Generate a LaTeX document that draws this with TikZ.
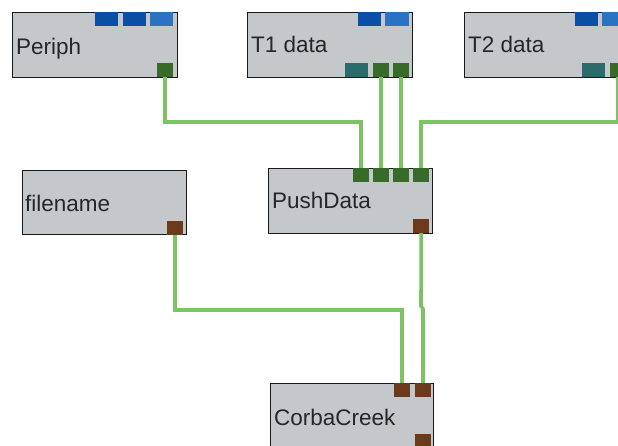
\documentclass[tikz,border=0pt]{standalone}
\usepackage{fontspec}
\setmainfont{Liberation Sans}
\definecolor{boxfill}{HTML}{C4C8CB}
\definecolor{wirecol}{HTML}{7CC462}
\definecolor{pdblue}{HTML}{0A4EA6}
\definecolor{plblue}{HTML}{2A73C3}
\definecolor{pgreen}{HTML}{386B2A}
\definecolor{pteal}{HTML}{2B6B6B}
\definecolor{pbrown}{HTML}{6B3A1A}
\tikzset{
  blk/.style={draw=black!90, line width=1.4pt, fill=boxfill, anchor=north west, inner sep=0pt},
  lbl/.style={anchor=base west, inner sep=0pt, font=\fontsize{22.5pt}{24pt}\selectfont, text=black!85},
  port/.style={anchor=north west, inner sep=0pt, minimum width=16pt, minimum height=13.5pt, draw=none},
  wire/.style={draw=wirecol, line width=3.6pt},
}
\begin{document}
\begin{tikzpicture}[x=1pt,y=-1pt]
\useasboundingbox (0,0) rectangle (618,446);
\clip (0,0) rectangle (618,446);
\fill[white] (0,0) rectangle (618,446);

% ---------- blocks ----------
\node[blk, minimum width=165pt, minimum height=65pt] (periph) at (12,12) {};
\node[blk, minimum width=165pt, minimum height=65pt] (tone) at (247,12) {};
\node[blk, minimum width=175pt, minimum height=65pt] (ttwo) at (464,12) {};
\node[blk, minimum width=164pt, minimum height=64pt] (filename) at (22,170) {};
\node[blk, minimum width=164pt, minimum height=65pt] (pushdata) at (268,168) {};
\node[blk, minimum width=163pt, minimum height=80pt] (corba) at (270,383) {};

% ---------- labels ----------
\node[lbl] (periphL) at (16,55) {Periph};
\node[lbl] (toneL) at (251,53) {T1 data};
\node[lbl] (ttwoL) at (468,53) {T2 data};
\node[lbl] (filenameL) at (25,212) {filename};
\node[lbl] (pushdataL) at (272,209) {PushData};
\node[lbl] (corbaL) at (274,425) {CorbaCreek};

% ---------- ports ----------
% Periph
\node[port, fill=pdblue, minimum width=23pt] (periphT1) at (95,12) {};
\node[port, fill=pdblue, minimum width=23pt] (periphT2) at (123,12) {};
\node[port, fill=plblue, minimum width=23pt] (periphT3) at (150,12) {};
\node[port, fill=pgreen] (periphO) at (157,63) {};
% T1 data
\node[port, fill=pdblue, minimum width=23pt] (toneT1) at (358,12) {};
\node[port, fill=plblue, minimum width=24pt] (toneT2) at (385,12) {};
\node[port, fill=pteal, minimum width=23pt] (toneO1) at (345,63) {};
\node[port, fill=pgreen] (toneO2) at (373,63) {};
\node[port, fill=pgreen] (toneO3) at (393,63) {};
% T2 data
\node[port, fill=pdblue, minimum width=23pt] (ttwoT1) at (575,12) {};
\node[port, fill=plblue, minimum width=23pt] (ttwoT2) at (602,12) {};
\node[port, fill=pteal, minimum width=23pt] (ttwoO1) at (582,63) {};
\node[port, fill=pgreen] (ttwoO2) at (610,63) {};
% PushData
\node[port, fill=pgreen] (pdI1) at (353,168) {};
\node[port, fill=pgreen] (pdI2) at (373,168) {};
\node[port, fill=pgreen] (pdI3) at (393,168) {};
\node[port, fill=pgreen] (pdI4) at (413,168) {};
\node[port, fill=pbrown] (pdO) at (413,219) {};
% filename
\node[port, fill=pbrown] (fnO) at (167,221) {};
% CorbaCreek
\node[port, fill=pbrown] (ccI1) at (394,383) {};
\node[port, fill=pbrown] (ccI2) at (415,383) {};
\node[port, fill=pbrown] (ccO) at (415,434) {};

% ---------- wires ----------
\coordinate (busA) at (0,122);
\coordinate (busB) at (0,310);
\coordinate (jogA) at (421,306);
\coordinate (jogB) at (423,309);

\draw[wire] (periphO.south) |- (busA -| pdI1.north) -- (pdI1.north);
\draw[wire] (toneO2.south) -- (toneO2.south |- pdI2.north);
\draw[wire] (toneO3.south) -- (toneO3.south |- pdI3.north);
\draw[wire] (ttwoO2.south) |- (busA -| pdI4.north) -- (pdI4.north);
\draw[wire] (fnO.south) |- (busB -| ccI1.north) -- (ccI1.north);
\draw[wire] (pdO.south) -- (jogA) -- (jogB) -- (jogB |- ccI2.north);

% redraw the connected ports over the wire ends
\fill[pgreen] (periphO.north west) rectangle (periphO.south east);
\fill[pgreen] (toneO2.north west) rectangle (toneO2.south east);
\fill[pgreen] (toneO3.north west) rectangle (toneO3.south east);
\fill[pgreen] (ttwoO2.north west) rectangle (ttwoO2.south east);
\fill[pgreen] (pdI1.north west) rectangle (pdI1.south east);
\fill[pgreen] (pdI2.north west) rectangle (pdI2.south east);
\fill[pgreen] (pdI3.north west) rectangle (pdI3.south east);
\fill[pgreen] (pdI4.north west) rectangle (pdI4.south east);
\fill[pbrown] (pdO.north west) rectangle (pdO.south east);
\fill[pbrown] (fnO.north west) rectangle (fnO.south east);
\fill[pbrown] (ccI1.north west) rectangle (ccI1.south east);
\fill[pbrown] (ccI2.north west) rectangle (ccI2.south east);
\end{tikzpicture}
\end{document}
